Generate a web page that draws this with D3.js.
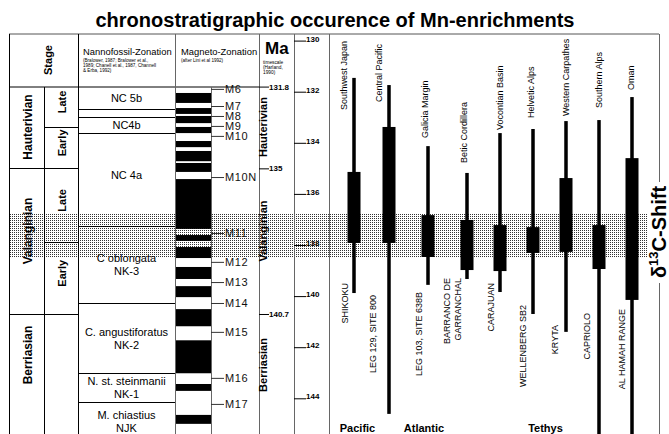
<!DOCTYPE html>
<html>
<head>
<meta charset="utf-8">
<script src="https://cdn.jsdelivr.net/npm/d3@7"></script>
<style>
    body { margin: 0; background: #fff; }
    svg { display: block; font-family: "Liberation Sans", Arial, Helvetica, sans-serif; }
</style>
</head>
<body>
<svg id="chart" width="669" height="434"></svg>
<script>
// stages and sub-stages (Ma)
const stages = ["Hauterivian", "Valanginian", "Berriasian"];
const stageTop = [131.8, 135, 140.7];
const stageBottom = [135, 140.7, 146];
const subStages = ["Late", "Early", "Late", "Early"];
const subStageTop = [131.8, 133.4, 135, 137.9];
const subStageBottom = [133.4, 135, 137.9, 140.7];

// nannofossil zones, boundaries in Ma
const nannoZones = [["NC 5b"], [], ["NC4b"], ["NC 4a"], ["C oblongata", "NK-3"],
    ["C. angustiforatus", "NK-2"], ["N. st. steinmanii", "NK-1"], ["M. chiastius", "NJK"]];
const nannoBounds = [131.8, 132.68, 132.99, 133.62, 137.26, 140.27, 143.01, 144.15, 145.65];

// magnetic polarity: normal (black) intervals in Ma
const magnetoNormal = [
    [132.05, 132.44], [132.64, 132.87], [132.95, 133.23], [133.38, 133.62],
    [133.93, 134.17], [134.32, 134.72], [134.79, 135.14], [135.42, 137.37],
    [137.61, 137.84], [138.08, 138.51], [138.86, 139.33], [139.61, 140.04],
    [140.51, 141.18], [141.73, 143.02], [143.44, 143.71], [144.65, 145.0]
];
const magnetoNames = ["M6", "M7", "M8", "M9", "M10", "M10N", "M11", "M12", "M13", "M14", "M15", "M16", "M17"];
const magnetoMa = [131.89, 132.56, 132.95, 133.34, 133.73, 135.34, 137.53, 138.66, 139.45, 140.27, 141.4, 143.2, 144.22];

const timescaleTicks = [130, 132, 134, 136, 138, 140, 142, 144];
const boundaryTicks = [131.8, 135, 140.7];
const shiftBand = [136.75, 138.47];

// Mn-enrichment occurrences per site
const sites = ["Southwest Japan", "Central Pacific", "Galicia Margin", "Betic Cordillera", "Vocontian Basin",
    "Helvetic Alps", "Western Carpathes", "Southern Alps", "Oman"];
const sections = [["SHIKOKU"], ["LEG 129, SITE 800"], ["LEG 103, SITE 638B"], ["BARRANCO DE", "GARRANCHAL"],
    ["CARAJUAN"], ["WELLENBERG SB2"], ["KRYTA"], ["CAPRIOLO"], ["AL HAMAH RANGE"]];
const rangeTop = [131.46, 131.74, 134.13, 135.18, 133.62, 133.46, 133.15, 133.11, 132.21];
const enrichTop = [135.14, 133.38, 136.83, 137.02, 137.22, 137.3, 135.38, 137.22, 134.6];
const enrichBottom = [137.92, 137.92, 138.47, 138.98, 139.02, 138.31, 138.27, 138.94, 140.15];
const rangeBottom = [139.88, 144.61, 139.56, 139.33, 139.84, 140.7, 141.4, 146, 146];
const oceans = ["Pacific", "Atlantic", "Tethys"];
const oceanSites = [[0, 1], [2], [3, 4, 5, 6, 7, 8]];

// layout
const col = { left: 9, sub: 44, nanno: 78, mag: 175, magBar: 211, ma: 259, ts: 294, sites: 329, right: 659 };
const frameTop = 34, headBottom = 87, frameBottom = 434;
const topLabelBase = [110, 102, 138, 163, 130, 118, 116, 108, 90];
const topLabelDx = [-10, -10, -3, -3, 0, -2, 0, 0, -1];
const botLabelTop = [283, 295, 292, 278, 283, 305, 325, 313, 309];
const botLabelDx = [-9, -16, -9, -20, -9, -10, -11, -12, -10];

const svg = d3.select('#chart');
const y = d3.scaleLinear().domain([130, 144]).range([40.6, 398.3]);
const x = d3.scaleLinear().domain([0, 1, 3, 8]).range([354, 389, 467, 632]);

// stipple pattern of the shift band
const defs = svg.append('defs');
defs.append('pattern')
    .attr('id', 'stipple')
    .attr('width', 2).attr('height', 2)
    .attr('patternUnits', 'userSpaceOnUse')
    .append('rect')
    .attr('width', 1).attr('height', 1)
    .attr('fill', '#333');

svg.append('rect')
    .attr('x', col.left).attr('width', 648 - col.left)
    .attr('y', y(shiftBand[0]))
    .attr('height', y(shiftBand[1]) - y(shiftBand[0]))
    .attr('fill', 'url(#stipple)');

// title
svg.append('text')
    .attr('x', 335).attr('y', 27)
    .attr('text-anchor', 'middle')
    .attr('font-size', 20).attr('font-weight', 'bold')
    .text('chronostratigraphic occurence of Mn-enrichments');

// frame lines
const line = (x1, y1, x2, y2, stroke) => svg.append('line')
    .attr('x1', x1).attr('y1', y1).attr('x2', x2).attr('y2', y2)
    .attr('stroke', stroke || '#000').attr('stroke-width', 1);

line(col.left, frameTop, col.right, frameTop, '#555');
line(col.left, headBottom, col.ma, headBottom);
[col.left, col.nanno].forEach(v => line(v + 0.5, frameTop, v + 0.5, frameBottom));
line(col.sub + 0.5, headBottom, col.sub + 0.5, frameBottom);
[col.mag, col.ma, col.ts, col.sites].forEach(v => line(v + 0.5, frameTop, v + 0.5, frameBottom, '#666'));
line(col.magBar + 0.5, headBottom, col.magBar + 0.5, frameBottom, '#666');
line(col.right + 0.5, frameTop, col.right + 0.5, 182, '#666');
line(col.right + 0.5, 283, col.right + 0.5, frameBottom, '#666');

// headers
svg.append('text')
    .attr('transform', `translate(${(col.left + col.nanno) / 2 + 4},60) rotate(-90)`)
    .attr('text-anchor', 'middle').attr('dominant-baseline', 'central')
    .attr('font-size', 11).attr('font-weight', 'bold')
    .text('Stage');

svg.append('text').attr('x', col.nanno + 5).attr('y', 55)
    .attr('font-size', 9.4).text('Nannofossil-Zonation');
['(Bralower, 1987;  Bralower et al.,', '1989; Chanell et al., 1987, Channell', '& Erba, 1992)']
    .forEach((t, i) => svg.append('text').attr('x', col.nanno + 5).attr('y', 62 + i * 5)
        .attr('font-size', 4.6).text(t));

svg.append('text').attr('x', col.mag + 6).attr('y', 55)
    .attr('font-size', 9.4).text('Magneto-Zonation');
svg.append('text').attr('x', col.mag + 6).attr('y', 62)
    .attr('font-size', 4.6).text('(after Lini et al 1992)');

svg.append('text').attr('x', col.ma + 6).attr('y', 54)
    .attr('font-size', 17).attr('font-weight', 'bold').text('Ma');
['timescale', '(Harland,', '1990)']
    .forEach((t, i) => svg.append('text').attr('x', col.ma + 4).attr('y', 64 + i * 5)
        .attr('font-size', 4.8).text(t));

// stage column
stages.forEach((s, i) => {
    if (i > 0) line(col.left, Math.round(y(stageTop[i])) + 0.5, col.nanno, Math.round(y(stageTop[i])) + 0.5);
});
const stageLabelY = [127, 231, 355];
stages.forEach((s, i) => {
    svg.append('text')
        .attr('transform', `translate(${(col.left + col.sub) / 2 + 1},${stageLabelY[i]}) rotate(-90)`)
        .attr('text-anchor', 'middle').attr('dominant-baseline', 'central')
        .attr('font-size', 12).attr('font-weight', 'bold')
        .text(s);
});
subStages.forEach((s, i) => {
    if (i % 2 === 1) line(col.sub, Math.round(y(subStageTop[i])) + 0.5, col.nanno, Math.round(y(subStageTop[i])) + 0.5);
    const cy = (y(subStageTop[i]) + y(subStageBottom[i])) / 2 - 5;
    svg.append('text')
        .attr('transform', `translate(${(col.sub + col.nanno) / 2 + 1},${cy}) rotate(-90)`)
        .attr('text-anchor', 'middle').attr('dominant-baseline', 'central')
        .attr('font-size', 11).attr('font-weight', 'bold')
        .text(s);
});

// nannofossil zones
nannoBounds.slice(1, -1).forEach(b => line(col.nanno, Math.round(y(b)) + 0.5, col.mag, Math.round(y(b)) + 0.5));
nannoZones.forEach((z, i) => {
    const cy = (y(nannoBounds[i]) + y(nannoBounds[i + 1])) / 2 - (i === 3 ? 5 : 0);
    z.forEach((t, j) => {
        svg.append('text')
            .attr('x', (col.nanno + col.mag) / 2)
            .attr('y', cy + (j - (z.length - 1) / 2) * 13)
            .attr('text-anchor', 'middle').attr('dominant-baseline', 'central')
            .attr('font-size', 11)
            .text(t);
    });
});

// magneto zonation
svg.append('g')
    .selectAll('rect')
    .data(magnetoNormal)
    .join('rect')
    .attr('x', col.mag + 1).attr('width', col.magBar - col.mag - 1)
    .attr('y', d => y(d[0]))
    .attr('height', d => y(d[1]) - y(d[0]))
    .attr('fill', '#000');

const magAxis = svg.append('g')
    .attr('transform', `translate(${col.magBar},0)`)
    .call(d3.axisRight(y).tickValues(magnetoMa).tickSize(13).tickPadding(1)
        .tickFormat((d, i) => magnetoNames[i]));
magAxis.select('.domain').remove();
magAxis.selectAll('line').attr('stroke', '#333');
magAxis.selectAll('text').attr('font-size', 11).attr('font-family', null).attr('fill', '#111').attr('letter-spacing', 0.6);

// Ma column: stage boundaries
const maAxis = svg.append('g')
    .attr('transform', `translate(${col.ma},0)`)
    .call(d3.axisRight(y).tickValues(boundaryTicks).tickSize(10).tickPadding(0)
        .tickFormat(d3.format('')));
maAxis.select('.domain').remove();
maAxis.selectAll('text').attr('font-size', 8).attr('font-weight', 'bold').attr('font-family', null).attr('dy', '0.32em');
const maLabelY = [127, 231, 365];
stages.forEach((s, i) => {
    svg.append('text')
        .attr('transform', `translate(${col.ma + 4},${maLabelY[i]}) rotate(-90)`)
        .attr('text-anchor', 'middle').attr('dominant-baseline', 'central')
        .attr('font-size', 11).attr('font-weight', 'bold')
        .text(s);
});

// timescale column
const tsAxis = svg.append('g')
    .attr('transform', `translate(${col.ts},0)`)
    .call(d3.axisRight(y).tickValues(timescaleTicks).tickSize(12).tickPadding(0));
tsAxis.select('.domain').remove();
tsAxis.selectAll('text').attr('font-size', 8).attr('font-weight', 'bold').attr('font-family', null).attr('dy', '0.05em');

// site ranges
const siteG = svg.append('g');
siteG.selectAll('rect.range')
    .data(sites)
    .join('rect')
    .attr('class', 'range')
    .attr('x', (d, i) => x(i) - 1.75).attr('width', 3.5)
    .attr('y', (d, i) => y(rangeTop[i]))
    .attr('height', (d, i) => y(rangeBottom[i]) - y(rangeTop[i]))
    .attr('fill', '#000');
siteG.selectAll('rect.enrich')
    .data(sites)
    .join('rect')
    .attr('class', 'enrich')
    .attr('x', (d, i) => x(i) - 6.5).attr('width', 13)
    .attr('y', (d, i) => y(enrichTop[i]))
    .attr('height', (d, i) => y(enrichBottom[i]) - y(enrichTop[i]))
    .attr('fill', '#000');

sites.forEach((s, i) => {
    svg.append('text')
        .attr('transform', `translate(${x(i) + topLabelDx[i]},${topLabelBase[i]}) rotate(-90)`)
        .attr('dominant-baseline', 'central')
        .attr('font-size', 9)
        .text(s);
    sections[i].forEach((t, j) => {
        svg.append('text')
            .attr('transform', `translate(${x(i) + botLabelDx[i] + j * 11},${botLabelTop[i]}) rotate(-90)`)
            .attr('text-anchor', 'end').attr('dominant-baseline', 'central')
            .attr('font-size', 9)
            .text(t);
    });
});

// ocean groups
oceans.forEach((o, i) => {
    const cx = d3.mean(oceanSites[i], k => x(k));
    svg.append('text')
        .attr('x', i === 0 ? cx - 14 : cx - 4).attr('y', 432)
        .attr('text-anchor', 'middle')
        .attr('font-size', 11).attr('font-weight', 'bold')
        .text(o);
});

// δ13C shift label
const shift = svg.append('text')
    .attr('transform', `translate(${col.right},232) rotate(-90)`)
    .attr('text-anchor', 'middle').attr('dominant-baseline', 'central')
    .attr('font-size', 20).attr('font-weight', 'bold');
shift.append('tspan').text('δ');
shift.append('tspan').attr('font-size', 13).attr('dy', '-0.5em').text('13');
shift.append('tspan').attr('dy', '0.33em').text('C-Shift');
</script>
</body>
</html>
